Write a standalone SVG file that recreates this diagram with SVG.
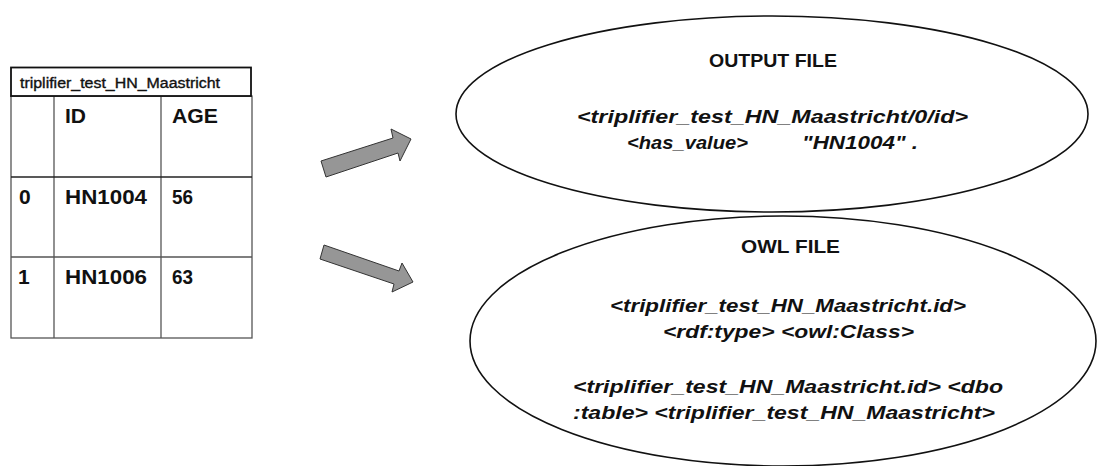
<svg xmlns="http://www.w3.org/2000/svg" width="1097" height="466" viewBox="0 0 1097 466">
<style>
.tbl{font-family:"Liberation Sans",Arial,sans-serif;font-weight:bold;font-size:21px;fill:#111}
.ttl{font-family:"Liberation Sans",Arial,sans-serif;font-size:14px;fill:#111;stroke:#111;stroke-width:0.35}
.hd{font-family:"Liberation Sans",Arial,sans-serif;font-weight:bold;font-size:19px;fill:#111}
.it{font-family:"Liberation Sans",Arial,sans-serif;font-weight:bold;font-style:italic;font-size:19px;fill:#111}
.grid{stroke:#555;stroke-width:1.3;fill:none}
.ell{fill:#fff;stroke:#111;stroke-width:1.6}
.arrow{fill:#969696;stroke:#333;stroke-width:1}
</style>
<rect width="1097" height="466" fill="#fff"/>
<g id="table">
  <rect class="grid" x="11" y="96" width="241" height="242"/>
  <line class="grid" x1="54" y1="96" x2="54" y2="338"/>
  <line class="grid" x1="161" y1="96" x2="161" y2="338"/>
  <line x1="11" y1="177" x2="252" y2="177" stroke="#222" stroke-width="1.3"/>
  <line class="grid" x1="11" y1="257" x2="252" y2="257"/>
  <rect x="11" y="67.5" width="240" height="28.5" fill="#fff" stroke="#111" stroke-width="1.8"/>
  <text class="ttl" x="20" y="88" textLength="200" lengthAdjust="spacingAndGlyphs">triplifier_test_HN_Maastricht</text>
  <text class="tbl" x="65" y="123" textLength="21" lengthAdjust="spacingAndGlyphs">ID</text>
  <text class="tbl" x="172" y="123" textLength="46" lengthAdjust="spacingAndGlyphs">AGE</text>
  <text class="tbl" x="19" y="204">0</text>
  <text class="tbl" x="65" y="204" textLength="82" lengthAdjust="spacingAndGlyphs">HN1004</text>
  <text class="tbl" x="172" y="204" textLength="21" lengthAdjust="spacingAndGlyphs">56</text>
  <text class="tbl" x="18" y="284">1</text>
  <text class="tbl" x="65" y="284" textLength="82" lengthAdjust="spacingAndGlyphs">HN1006</text>
  <text class="tbl" x="172" y="284" textLength="21" lengthAdjust="spacingAndGlyphs">63</text>
</g>
<g id="connectors">
  <polygon class="arrow" points="321,161 393,138 391,129 411,139 400,161 398,153 326,177"/>
  <polygon class="arrow" points="324,245 399,271 402,263 413,282 392,292 394,284 320,259"/>
</g>
<g id="output-file">
  <ellipse class="ell" cx="772" cy="114" rx="316" ry="98"/>
  <text class="hd" x="709" y="67" textLength="128" lengthAdjust="spacingAndGlyphs">OUTPUT FILE</text>
  <text class="it" x="577" y="123" textLength="391" lengthAdjust="spacingAndGlyphs">&lt;triplifier_test_HN_Maastricht/0/id&gt;</text>
  <text class="it" x="627" y="149" textLength="121" lengthAdjust="spacingAndGlyphs">&lt;has_value&gt;</text>
  <text class="it" x="802" y="149" textLength="116" lengthAdjust="spacingAndGlyphs">"HN1004" .</text>
</g>
<g id="owl-file">
  <ellipse class="ell" cx="783" cy="341" rx="313" ry="125"/>
  <text class="hd" x="741" y="253" textLength="99" lengthAdjust="spacingAndGlyphs">OWL FILE</text>
  <text class="it" x="610" y="312" textLength="356" lengthAdjust="spacingAndGlyphs">&lt;triplifier_test_HN_Maastricht.id&gt;</text>
  <text class="it" x="663" y="338" textLength="251" lengthAdjust="spacingAndGlyphs">&lt;rdf:type&gt; &lt;owl:Class&gt;</text>
  <text class="it" x="573" y="393" textLength="430" lengthAdjust="spacingAndGlyphs">&lt;triplifier_test_HN_Maastricht.id&gt; &lt;dbo</text>
  <text class="it" x="573" y="419" textLength="422" lengthAdjust="spacingAndGlyphs">:table&gt; &lt;triplifier_test_HN_Maastricht&gt;</text>
</g>
</svg>
